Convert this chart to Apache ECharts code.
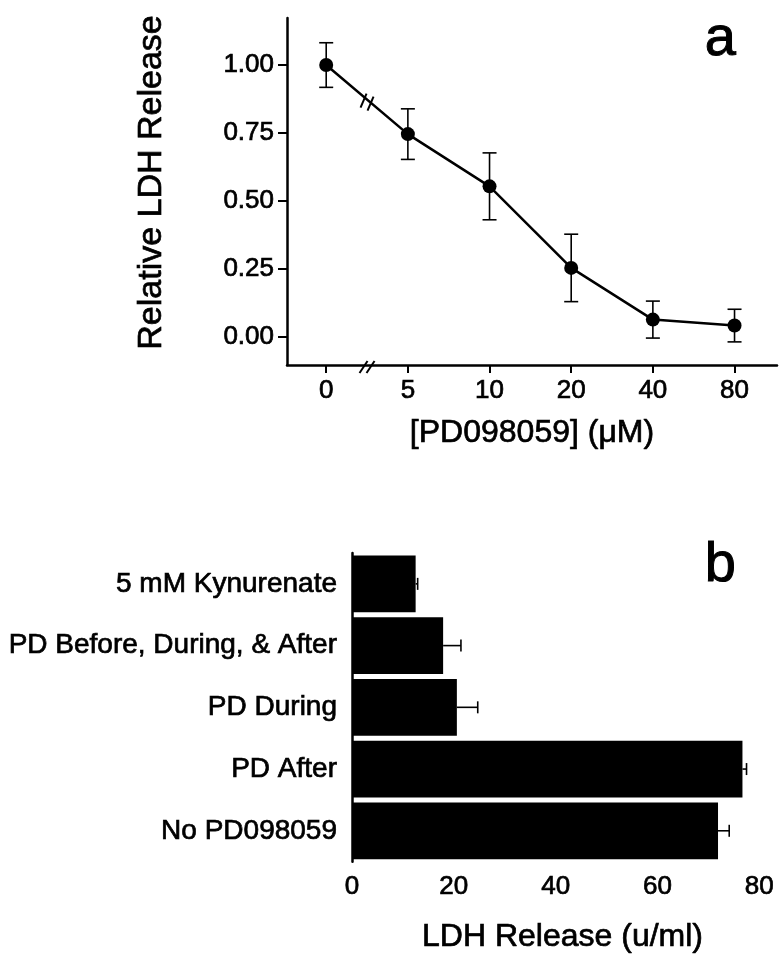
<!DOCTYPE html>
<html>
<head>
<meta charset="utf-8">
<script src="https://cdn.jsdelivr.net/npm/echarts@6/dist/echarts.min.js"></script>
<style>
  html, body { margin: 0; padding: 0; background: #fff; }
  #chart { width: 784px; height: 955px; }
</style>
</head>
<body>
<div id="chart"></div>
<script>
// panel a: relative LDH release vs PD098059 dose
const doseLabels = ['0', '5', '10', '20', '40', '80'];
const relLdh = [1.0, 0.746, 0.554, 0.254, 0.064, 0.042];
const relLdhErr = [0.082, 0.093, 0.123, 0.124, 0.068, 0.06];
const relTicks = [0, 0.25, 0.5, 0.75, 1.0];

// panel b: LDH release by treatment (top to bottom)
const treatments = ['5 mM Kynurenate', 'PD Before, During, & After', 'PD During', 'PD After', 'No PD098059'];
const ldhRelease = [12.5, 17.9, 20.6, 76.7, 71.9];
const ldhErr = [0.4, 3.5, 4.1, 0.8, 2.2];

const FONT = 'Liberation Sans, Arial, sans-serif';
const chart = echarts.init(document.getElementById('chart'));

const doseIdx = doseLabels.map((d, i) => i);

/* 误差线：竖直，两端带帽 */
function vErrorBar(params, api) {
  const x = api.value(0);
  const lo = api.coord([x, api.value(1)]);
  const hi = api.coord([x, api.value(2)]);
  const w = 7;
  const st = { stroke: '#000', lineWidth: 1.6 };
  return {
    type: 'group',
    children: [
      { type: 'line', shape: { x1: lo[0], y1: lo[1], x2: hi[0], y2: hi[1] }, style: st },
      { type: 'line', shape: { x1: hi[0] - w, y1: hi[1], x2: hi[0] + w, y2: hi[1] }, style: st },
      { type: 'line', shape: { x1: lo[0] - w, y1: lo[1], x2: lo[0] + w, y2: lo[1] }, style: st }
    ]
  };
}

/* 误差线：水平，只画正方向 */
function hErrorBar(params, api) {
  const y = api.value(0);
  const a = api.coord([api.value(1), y]);
  const b = api.coord([api.value(2), y]);
  const h = 6;
  const st = { stroke: '#000', lineWidth: 1.6 };
  return {
    type: 'group',
    children: [
      { type: 'line', shape: { x1: a[0], y1: a[1], x2: b[0], y2: b[1] }, style: st },
      { type: 'line', shape: { x1: b[0], y1: b[1] - h, x2: b[0], y2: b[1] + h }, style: st }
    ]
  };
}

// 扫描件字体偏粗，加一点描边
const heavy = { textBorderColor: '#000', textBorderWidth: 0.7 };
const axisText = { color: '#000', fontFamily: FONT, fontSize: 26, ...heavy };
const nameText = { color: '#000', fontFamily: FONT, fontSize: 32, ...heavy };

chart.setOption({
  animation: false,
  backgroundColor: '#fff',
  grid: [
    { left: 287, right: 7, top: 18, height: 347 },
    { left: 352, right: 11, top: 553, height: 311 }
  ],
  xAxis: [
    {
      gridIndex: 0,
      type: 'value',
      min: -0.48,
      max: 5.52,
      name: '[PD098059] (\u03bcM)',
      nameLocation: 'middle',
      nameGap: 52,
      nameTextStyle: nameText,
      axisLine: { onZero: false, lineStyle: { color: '#000', width: 2.5 } },
      axisTick: { customValues: doseIdx, length: 8, lineStyle: { color: '#000', width: 2 } },
      axisLabel: {
        customValues: doseIdx,
        margin: 13,
        ...axisText,
        formatter: v => doseLabels[Math.round(v)]
      },
      splitLine: { show: false }
    },
    {
      gridIndex: 1,
      type: 'value',
      min: 0,
      max: 82.7,
      interval: 20,
      name: 'LDH Release (u/ml)',
      nameLocation: 'middle',
      nameGap: 60,
      nameTextStyle: nameText,
      axisLine: { onZero: false, lineStyle: { color: '#000', width: 2.5 } },
      axisTick: { length: 6, lineStyle: { color: '#000', width: 2 } },
      axisLabel: { margin: 12, ...axisText, showMaxLabel: false },
      splitLine: { show: false }
    }
  ],
  yAxis: [
    {
      gridIndex: 0,
      type: 'value',
      min: -0.103,
      max: 1.173,
      name: 'Relative LDH Release',
      nameLocation: 'middle',
      nameGap: 118,
      nameRotate: 90,
      nameTextStyle: { ...nameText, fontSize: 34, padding: [0, 0, 0, 18] },
      axisLine: { onZero: false, lineStyle: { color: '#000', width: 2.5 } },
      axisTick: { customValues: relTicks, length: 9, lineStyle: { color: '#000', width: 2 } },
      axisLabel: {
        customValues: relTicks,
        margin: 13,
        ...axisText,
        formatter: v => v.toFixed(2)
      },
      splitLine: { show: false }
    },
    {
      gridIndex: 1,
      type: 'category',
      inverse: true,
      data: treatments,
      axisLine: { lineStyle: { color: '#000', width: 2.5 } },
      axisTick: { length: 4, lineStyle: { color: '#000', width: 2 } },
      axisLabel: { margin: 15, ...axisText, fontSize: 28 },
      splitLine: { show: false }
    }
  ],
  series: [
    {
      type: 'custom',
      xAxisIndex: 0,
      yAxisIndex: 0,
      renderItem: vErrorBar,
      data: relLdh.map((v, i) => [i, v - relLdhErr[i], v + relLdhErr[i]]),
      z: 1
    },
    {
      type: 'line',
      xAxisIndex: 0,
      yAxisIndex: 0,
      data: relLdh.map((v, i) => [i, v]),
      symbol: 'circle',
      symbolSize: 14,
      itemStyle: { color: '#000' },
      lineStyle: { color: '#000', width: 2.5 },
      z: 3
    },
    {
      type: 'bar',
      xAxisIndex: 1,
      yAxisIndex: 1,
      data: ldhRelease,
      barCategoryGap: '8%',
      itemStyle: { color: '#000' }
    },
    {
      type: 'custom',
      xAxisIndex: 1,
      yAxisIndex: 1,
      renderItem: hErrorBar,
      data: ldhRelease.map((v, i) => [i, v, v + ldhErr[i]]),
      z: 3
    }
  ]
});

/* 断轴标记：位置由坐标轴换算 */
const axBreak = chart.convertToPixel({ gridIndex: 0 }, [0.5, -0.103]);
const lnBreak = chart.convertToPixel({ gridIndex: 0 }, [0.5, (relLdh[0] + relLdh[1]) / 2]);
function slash(cx, cy, dx, dy) {
  return {
    type: 'line',
    shape: { x1: cx - dx, y1: cy + dy, x2: cx + dx, y2: cy - dy },
    style: { stroke: '#000', lineWidth: 2 },
    z: 10
  };
}
const letterStyle = { align: 'right', verticalAlign: 'middle', font: '56px ' + FONT, fill: '#000', stroke: '#000', lineWidth: 1 };
chart.setOption({
  graphic: [
    slash(axBreak[0] - 3.5, axBreak[1] + 2, 4, 6),
    slash(axBreak[0] + 3.5, axBreak[1] + 2, 4, 6),
    slash(lnBreak[0] - 3.5, lnBreak[1] + 1, 3, 7),
    slash(lnBreak[0] + 3.5, lnBreak[1] + 4, 3, 7),
    { type: 'text', style: { text: 'a', x: 736, y: 40, ...letterStyle } },
    { type: 'text', style: { text: 'b', x: 736, y: 566, ...letterStyle } }
  ]
});
</script>
</body>
</html>
